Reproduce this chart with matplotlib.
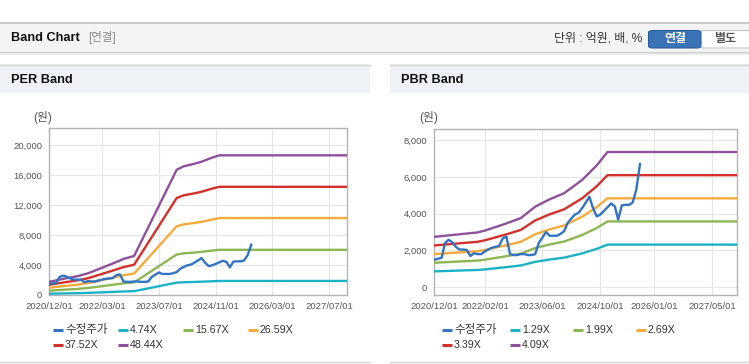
import matplotlib
matplotlib.use('Agg')
import matplotlib.pyplot as plt
import matplotlib.dates as mdates
from matplotlib.patches import Rectangle, FancyBboxPatch
from matplotlib.lines import Line2D
import pandas as pd

plt.rcParams['font.family'] = ['Liberation Sans', 'Noto Sans CJK KR']

# ---------------- data ----------------
price_dates = pd.date_range('2020-12-01', periods=58, freq='MS')
price = [1500, 1550, 1600, 2400, 2580, 2450, 2200, 2050, 2050, 2030,
         1700, 1850, 1800, 1800, 1950, 2050, 2150, 2200, 2250, 2650,
         2750, 1800, 1750, 1750, 1800, 1800, 1750, 1750, 1800, 2400,
         2700, 3000, 2800, 2800, 2800, 2900, 3050, 3500, 3750, 3950,
         4050, 4300, 4600, 4920, 4300, 3850, 3950, 4150, 4350, 4550,
         4400, 3680, 4450, 4480, 4480, 4600, 5300, 6700]

per_dates = pd.to_datetime(['2020-12-01', '2021-04-01', '2021-08-01', '2021-11-01',
                            '2022-02-01', '2022-05-15', '2022-09-01', '2022-12-01',
                            '2023-12-01', '2024-02-01', '2024-05-01', '2024-07-01',
                            '2024-10-01', '2024-12-01', '2027-12-01'])
per_474 = [171, 210, 245, 283, 338, 400, 470, 509, 1650, 1700, 1740, 1770, 1830, 1870, 1870]
per_1567 = [566, 696, 809, 935, 1116, 1323, 1553, 1682, 5393, 5548, 5655, 5742, 5920, 6017, 6017]
per_2659 = [961, 1180, 1372, 1586, 1894, 2245, 2635, 2854, 9150, 9414, 9595, 9743, 10045, 10250, 10250]
per_3752 = [1356, 1665, 1937, 2239, 2672, 3168, 3718, 4028, 12913, 13284, 13540, 13749, 14175, 14408, 14408]
per_4844 = [1750, 2150, 2500, 2890, 3450, 4090, 4800, 5200, 16670, 17150, 17480, 17750, 18300, 18600, 18600]

pbr_dates = pd.to_datetime(['2020-12-01', '2021-04-01', '2021-08-01', '2021-12-01',
                            '2022-02-01', '2022-08-01', '2022-12-01', '2023-04-01',
                            '2023-08-01', '2023-12-01', '2024-05-01', '2024-09-01',
                            '2024-12-01', '2027-12-01'])
pbr_129 = [864, 889, 915, 940, 971, 1094, 1186, 1381, 1508, 1612, 1839, 2088, 2318, 2318]
pbr_199 = [1333, 1372, 1411, 1450, 1499, 1689, 1830, 2131, 2326, 2487, 2837, 3221, 3577, 3577]
pbr_269 = [1802, 1855, 1907, 1960, 2026, 2282, 2473, 2881, 3144, 3361, 3834, 4354, 4834, 4834]
pbr_339 = [2271, 2338, 2404, 2470, 2553, 2876, 3117, 3631, 3962, 4236, 4832, 5487, 6092, 6092]
pbr_409 = [2740, 2820, 2900, 2980, 3080, 3470, 3760, 4380, 4780, 5110, 5830, 6620, 7350, 7350]

per_labels = ['수정주가', '4.74X', '15.67X', '26.59X', '37.52X', '48.44X']
pbr_labels = ['수정주가', '1.29X', '1.99X', '2.69X', '3.39X', '4.09X']

per_xticks = ['2020/12/01', '2022/03/01', '2023/07/01', '2024/11/01', '2026/03/01', '2027/07/01']
pbr_xticks = ['2020/12/01', '2022/02/01', '2023/06/01', '2024/10/01', '2026/01/01', '2027/05/01']
per_yticks = [0, 4000, 8000, 12000, 16000, 20000]
pbr_yticks = [0, 2000, 4000, 6000, 8000]

colors = ['#3273c2', '#1cb2c6', '#8db654', '#f4ab3c', '#d2302a', '#8e519c']

# ---------------- figure ----------------
W, H = 749, 364
fig = plt.figure(figsize=(W / 100, H / 100), dpi=100)
fig.patch.set_facecolor('white')


def X(x):
    return x / W


def Y(y):
    return 1 - y / H


def rect(x0, y0, x1, y1, **kw):
    fig.patches.append(Rectangle((X(x0), Y(y1)), X(x1) - X(x0), Y(y0) - Y(y1),
                                 transform=fig.transFigure, **kw))


def hline(x0, x1, y, color, lw=1.0):
    fig.lines.append(Line2D([X(x0), X(x1)], [Y(y), Y(y)], transform=fig.transFigure,
                            color=color, lw=lw))


# header bar
rect(0, 22, 749, 51.5, facecolor='#f4f4f4', edgecolor='none')
hline(0, 749, 22.5, '#c2c2c2', 1.2)
hline(0, 749, 52, '#cfcfcf', 0.9)
hline(0, 749, 53, '#e2e2e2', 0.9)
hline(0, 749, 54, '#efefef', 0.9)
fig.text(X(11), Y(38), 'Band Chart', fontsize=9.2, fontweight='bold', color='#111111', va='center')
fig.text(X(88), Y(38), '[연결]', fontsize=8.3, color='#8a8a8a', va='center')
fig.text(X(642), Y(38.5), '단위 : 억원, 배, %', fontsize=8.6, color='#333333', va='center', ha='right')
fig.patches.append(FancyBboxPatch((X(700), Y(48)), X(752) - X(700), Y(30.5) - Y(48),
                                  boxstyle='round,pad=0,rounding_size=0.006',
                                  transform=fig.transFigure, facecolor='white',
                                  edgecolor='#c4c4c4', lw=0.8))
fig.patches.append(FancyBboxPatch((X(648.5), Y(48)), X(701) - X(648.5), Y(30.5) - Y(48),
                                  boxstyle='round,pad=0,rounding_size=0.006',
                                  transform=fig.transFigure, facecolor='#3a74b7',
                                  edgecolor='#2d5f9a', lw=0.8))
fig.text(X(675), Y(39), '연결', fontsize=8.6, fontweight='bold', color='white', va='center', ha='center')
fig.text(X(725), Y(39), '별도', fontsize=8.6, fontweight='bold', color='#555555', va='center', ha='center')

# panel headers
for (px0, px1, title) in [(0, 370, 'PER Band'), (390, 749, 'PBR Band')]:
    rect(px0, 64, px1, 93, facecolor='#eef1f6', edgecolor='none')
    hline(px0, px1, 64.5, '#d6d6d6', 1.0)
    hline(px0, px1, 362, '#d4d4d4', 1.0)
    fig.text(X(px0 + 11), Y(80), title, fontsize=9.2, fontweight='bold', color='#111111', va='center')


def make_chart(box, band_dates, bands, labels, xticks, yticks, ylim, ylab_x, legend_x):
    x0, y0, x1, y1 = box
    ax = fig.add_axes([X(x0), Y(y1), X(x1) - X(x0), Y(y0) - Y(y1)])
    ax.set_facecolor('white')
    for i, b in enumerate(bands):
        ax.plot(band_dates, b, color=colors[i + 1], lw=1.7, zorder=3, solid_joinstyle='round')
    ax.plot(price_dates, price, color=colors[0], lw=1.7, zorder=4, solid_joinstyle='round')
    ax.set_xlim(pd.Timestamp('2020-12-01'), pd.Timestamp('2027-12-01'))
    ax.set_ylim(*ylim)
    ax.set_xticks(pd.to_datetime(xticks))
    ax.set_xticklabels(xticks)
    ax.set_yticks(yticks)
    ax.set_yticklabels([f'{v:,}' for v in yticks])
    ax.grid(True, color='#e6e6e6', lw=0.8, zorder=0)
    ax.set_axisbelow(True)
    for s in ax.spines.values():
        s.set_color('#b4b4b4')
        s.set_linewidth(1.0)
    ax.tick_params(axis='both', length=0, labelsize=6.8, labelcolor='#555555')
    ax.tick_params(axis='y', pad=5)
    ax.tick_params(axis='x', pad=5)
    fig.text(X(ylab_x), Y(118), '(원)', fontsize=8.5, color='#555555', va='center', ha='center')
    # legend
    rows = [330, 344.5]
    pos = [(legend_x[0], rows[0]), (legend_x[1], rows[0]), (legend_x[2], rows[0]),
           (legend_x[3], rows[0]), (legend_x[0], rows[1]), (legend_x[1], rows[1])]
    for i, (lx, ly) in enumerate(pos):
        fig.lines.append(Line2D([X(lx), X(lx + 10)], [Y(ly), Y(ly)], transform=fig.transFigure,
                                color=colors[i], lw=2.2, solid_capstyle='butt'))
        fig.text(X(lx + 12), Y(ly), labels[i], fontsize=8.3 if i == 0 else 7.7,
                 color='#333333', va='center', ha='left')
    return ax


make_chart((49, 128.3, 347, 295), per_dates,
           [per_474, per_1567, per_2659, per_3752, per_4844], per_labels,
           per_xticks, per_yticks, (0, 22200), 43, [53, 118, 183, 248])
make_chart((434.3, 129, 737.3, 295), pbr_dates,
           [pbr_129, pbr_199, pbr_269, pbr_339, pbr_409], pbr_labels,
           pbr_xticks, pbr_yticks, (-420, 8600), 429, [442, 510, 573, 636])

fig.savefig('out.png', dpi=100)
